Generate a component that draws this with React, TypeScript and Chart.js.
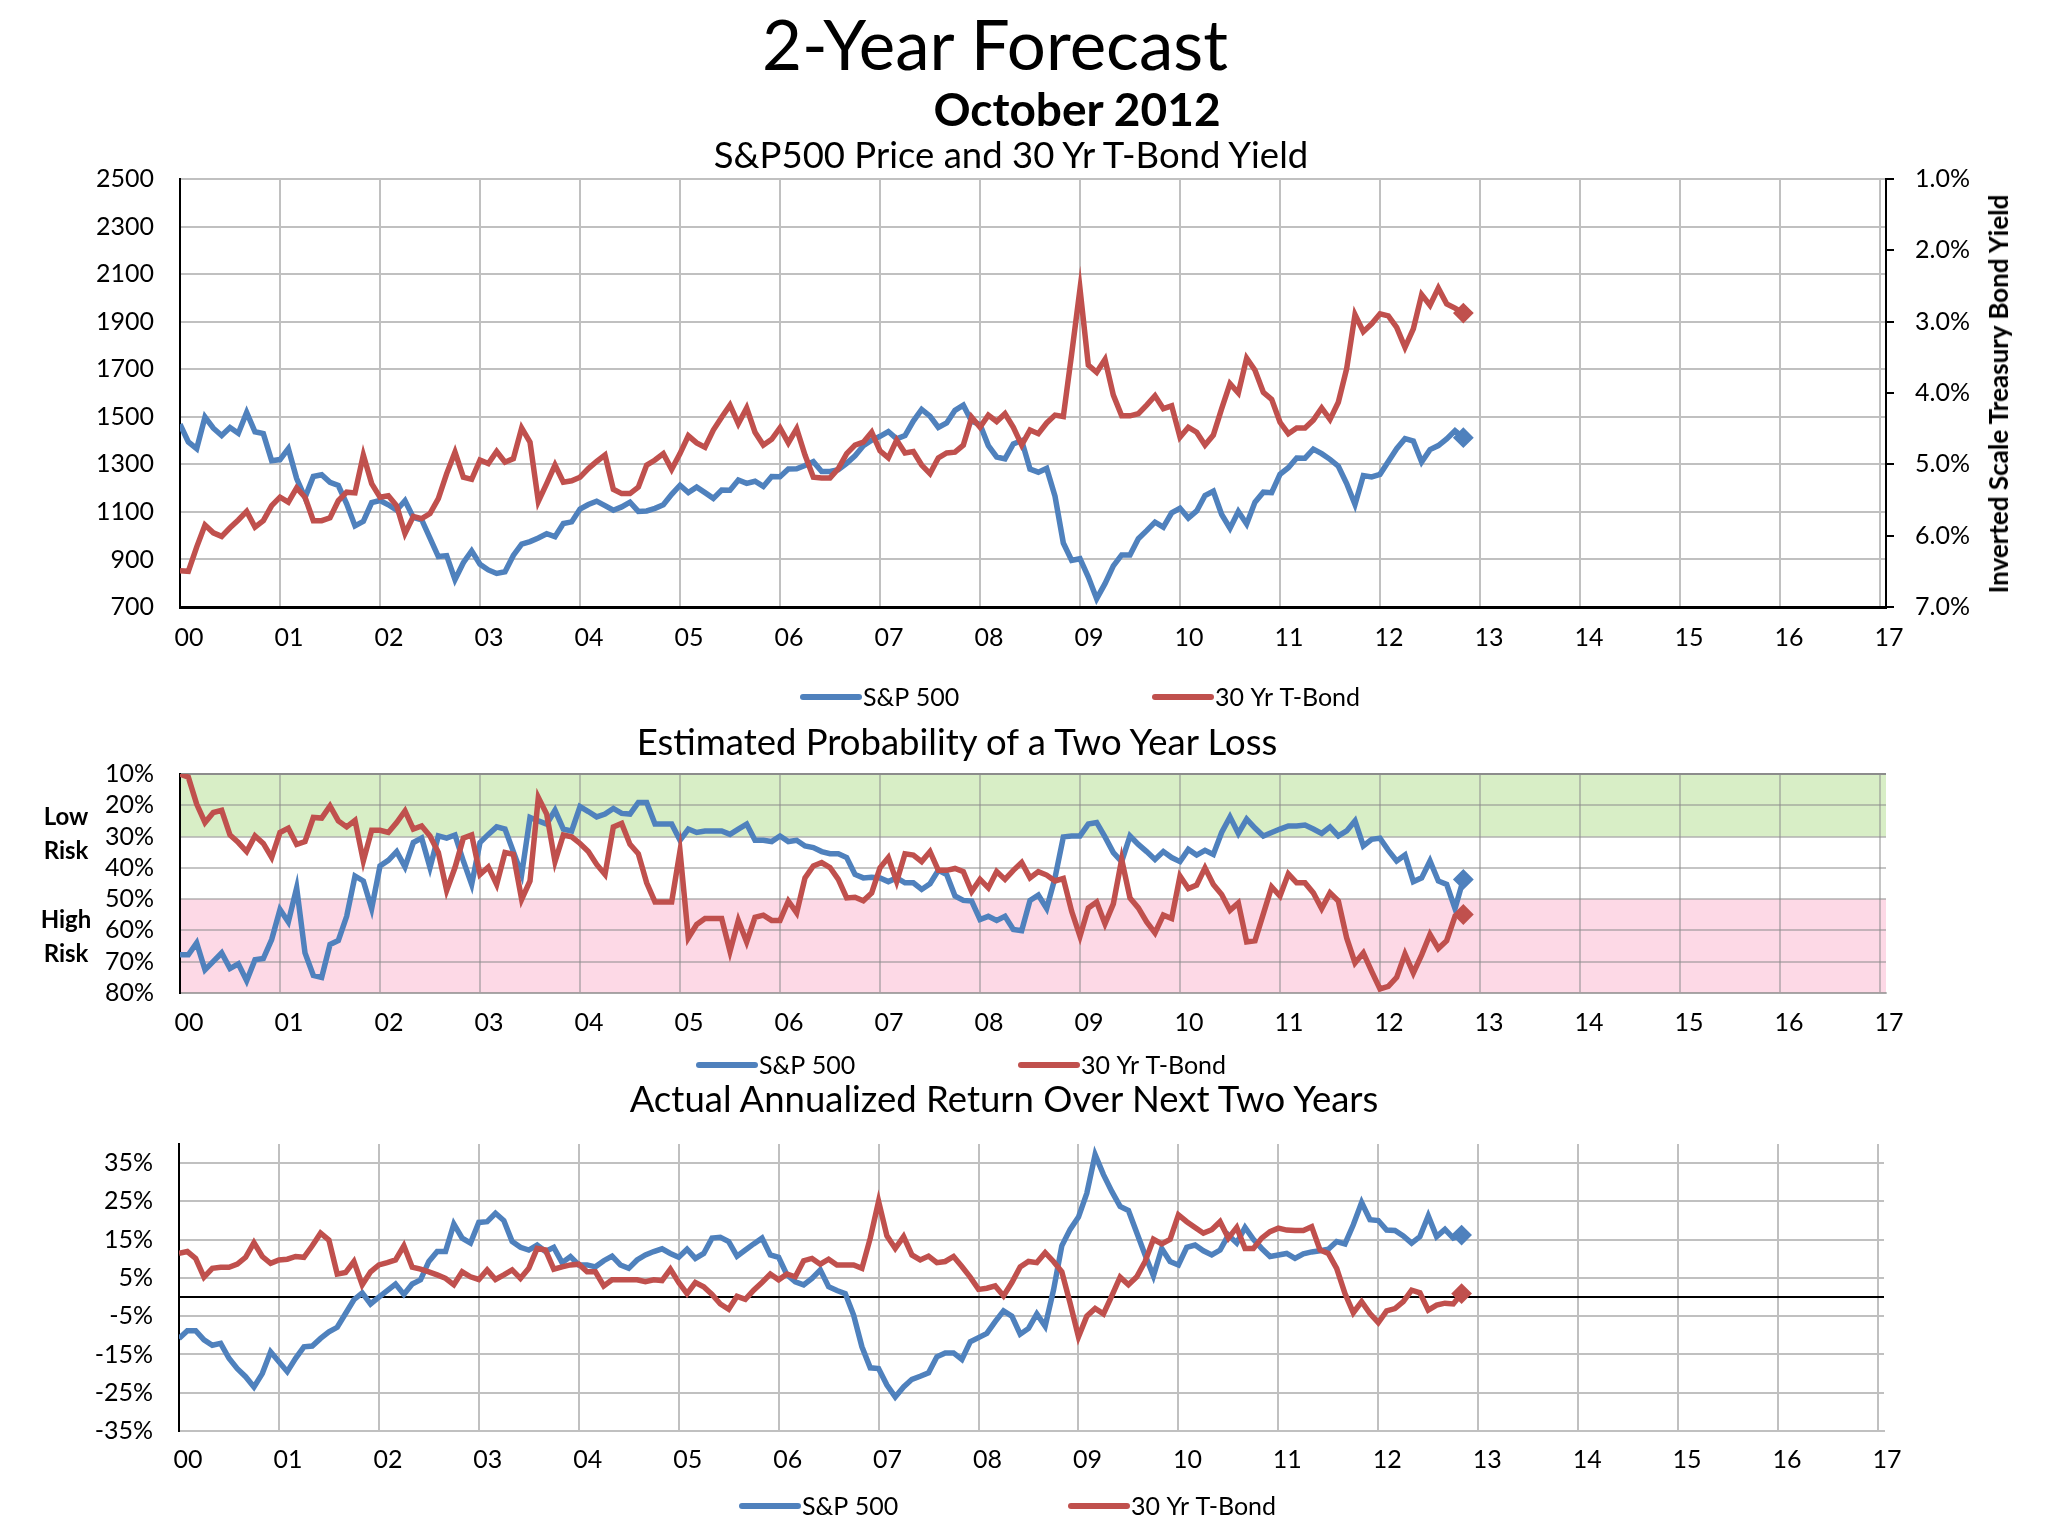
import React, { useEffect, useRef } from 'react';
import { Chart, registerables } from 'chart.js';

Chart.register(...registerables);

// ---------- DATA (monthly, Dec 1999 .. Oct 2012; x = months / 12 years from "00") ----------
const YEAR_LABELS = ['00', '01', '02', '03', '04', '05', '06', '07', '08', '09', '10', '11', '12', '13', '14', '15', '16', '17'];

const SERIES_NAMES = ['S&P 500', '30 Yr T-Bond'];

const SP500_PRICE = [
  1469,
  1394, 1366, 1499, 1452, 1421, 1455, 1431, 1518, 1437, 1429, 1315, 1320,
  1366, 1240, 1160, 1249, 1256, 1224, 1211, 1134, 1041, 1060, 1139, 1148,
  1130, 1107, 1147, 1077, 1067, 990, 912, 916, 815, 886, 936, 880,
  856, 841, 848, 917, 964, 975, 990, 1008, 996, 1051, 1058, 1112,
  1131, 1145, 1126, 1107, 1121, 1141, 1102, 1104, 1115, 1130, 1174, 1212,
  1181, 1204, 1181, 1157, 1192, 1191, 1234, 1220, 1229, 1207, 1249, 1248,
  1280, 1281, 1295, 1311, 1270, 1270, 1277, 1304, 1336, 1378, 1401, 1418,
  1438, 1407, 1421, 1482, 1531, 1503, 1455, 1474, 1527, 1549, 1481, 1468,
  1379, 1331, 1323, 1386, 1400, 1280, 1267, 1283, 1166, 969, 896, 903,
  826, 735, 798, 873, 919, 919, 987, 1021, 1057, 1036, 1096, 1115,
  1074, 1104, 1169, 1187, 1089, 1031, 1102, 1049, 1141, 1183, 1181, 1258,
  1286, 1327, 1326, 1364, 1345, 1321, 1292, 1219, 1131, 1253, 1247, 1258,
  1312, 1366, 1408, 1398, 1310, 1362, 1379, 1407, 1441, 1412,
];

const TBOND_YIELD = [
  6.49,
  6.50, 6.16, 5.85, 5.96, 6.01, 5.89, 5.78, 5.66, 5.88, 5.79, 5.58, 5.46,
  5.53, 5.33, 5.46, 5.79, 5.79, 5.75, 5.51, 5.39, 5.40, 4.87, 5.27, 5.46,
  5.44, 5.58, 5.97, 5.73, 5.76, 5.69, 5.48, 5.13, 4.83, 5.18, 5.21, 4.94,
  4.99, 4.82, 4.97, 4.92, 4.49, 4.69, 5.52, 5.27, 5.01, 5.25, 5.23, 5.18,
  5.06, 4.96, 4.87, 5.35, 5.41, 5.41, 5.32, 5.01, 4.94, 4.85, 5.07, 4.85,
  4.60, 4.70, 4.76, 4.52, 4.34, 4.17, 4.43, 4.21, 4.55, 4.73, 4.65, 4.49,
  4.70, 4.50, 4.87, 5.18, 5.19, 5.19, 5.06, 4.85, 4.73, 4.69, 4.55, 4.81,
  4.91, 4.66, 4.84, 4.82, 5.01, 5.13, 4.91, 4.84, 4.83, 4.73, 4.34, 4.48,
  4.31, 4.40, 4.29, 4.48, 4.73, 4.52, 4.57, 4.42, 4.31, 4.33, 3.45, 2.54,
  3.61, 3.71, 3.53, 4.03, 4.32, 4.32, 4.29, 4.17, 4.04, 4.22, 4.18, 4.62,
  4.48, 4.55, 4.73, 4.59, 4.22, 3.87, 4.00, 3.51, 3.68, 3.99, 4.09, 4.41,
  4.57, 4.49, 4.49, 4.38, 4.21, 4.37, 4.13, 3.66, 2.90, 3.14, 3.03, 2.89,
  2.92, 3.08, 3.36, 3.10, 2.62, 2.77, 2.53, 2.75, 2.81, 2.88,
];

const SP500_LOSS_PROB = [
  67.8,
  67.8, 64, 72.6, 69.9, 67.2, 72.2, 70.7, 76.1, 69.4, 69, 62.9, 53.3,
  57.3, 46.4, 67.2, 74.4, 75, 64.5, 63.2, 55.5, 42.6, 44.2, 53, 39.4,
  37.6, 34.8, 39.7, 31.9, 30.5, 39.9, 29.8, 30.5, 29.5, 37.8, 45.3, 31.9,
  29.3, 26.9, 27.6, 34.8, 42.1, 23.9, 25, 26, 21.6, 27.6, 28.2, 20.4,
  22, 23.7, 22.8, 21, 22.6, 22.8, 19.1, 19.1, 26, 26, 26, 31.2,
  27.6, 28.7, 28.2, 28.2, 28.2, 29.3, 27.6, 26, 31.2, 31.2, 31.6, 29.8,
  31.6, 31.2, 33, 33.5, 34.8, 35.5, 35.5, 36.7, 42.1, 43.2, 43, 43.2,
  44.4, 43.2, 44.8, 44.8, 46.9, 45.1, 40.8, 42.1, 49, 50.4, 50.6, 56.5,
  55.5, 56.8, 55.5, 59.7, 60.1, 50.4, 48.7, 53, 43.2, 30.1, 29.8, 29.8,
  26, 25.5, 30.1, 35.1, 38, 29.8, 32.5, 34.8, 37.3, 34.8, 36.7, 38,
  34.1, 35.9, 34.4, 35.7, 28.7, 23.7, 29, 24.4, 27.3, 29.8, 28.7, 27.6,
  26.6, 26.6, 26.3, 27.6, 29, 26.9, 29.8, 28.2, 25, 33, 30.9, 30.5,
  34.4, 37.8, 35.9, 44.4, 43.2, 37.8, 44.2, 45.3, 53, 43.7,
];

const TBOND_LOSS_PROB = [
  10,
  11, 19.6, 25.5, 22.3, 21.6, 29.5, 31.9, 34.8, 29.8, 32.2, 36.7, 28.7,
  27.3, 32.5, 31.6, 23.9, 24.1, 20.2, 25, 26.9, 24.8, 37.8, 28, 28,
  28.7, 25.5, 21.8, 27.6, 26.6, 29.8, 35.1, 47.2, 39.9, 30.5, 29.5, 42.1,
  39.7, 45.3, 35.1, 35.7, 50.1, 44.2, 17.5, 22.8, 38, 29.5, 30.1, 32.2,
  34.8, 38.9, 42.1, 26.9, 25.8, 32.5, 35.5, 44.8, 50.9, 50.9, 50.9, 34.6,
  62.4, 58.1, 56.2, 56.2, 56.2, 66.7, 56.8, 63.7, 55.8, 55.1, 56.8, 56.8,
  50.6, 54.4, 43.2, 39.4, 38.3, 39.9, 43.7, 49.6, 49.4, 50.5, 48, 40,
  36.7, 44.4, 35.5, 35.9, 38, 34.8, 40.8, 40.8, 40.2, 41.2, 47.6, 43.7,
  46.4, 41.2, 43.7, 40.8, 38.3, 43.2, 41.2, 42.3, 44.2, 43.4, 53.9, 61.9,
  52.8, 50.9, 57.9, 51.5, 37.3, 49.6, 52.8, 57.3, 60.8, 55.1, 56.2, 42.6,
  46.6, 45.5, 40, 45.3, 48.5, 53.6, 51.2, 63.7, 63.3, 54.7, 46.1, 49,
  41.9, 44.8, 44.8, 48, 53, 48, 50.6, 62.4, 70.4, 67.2, 73.1, 78.7,
  77.9, 75, 67.5, 73.6, 67.8, 61.3, 65.8, 63.3, 55.5, 54.9,
];

const SP500_RETURN = [
  -10.8,
  -8.8, -8.8, -11.2, -12.6, -12.1, -16, -18.7, -20.8, -23.5, -20, -14.3, -16.9,
  -19.5, -16, -13, -12.8, -10.8, -9.1, -7.9, -4.3, -0.7, 1.1, -1.8, 0,
  1.7, 3.4, 0.7, 3.4, 4.5, 9.3, 11.9, 11.9, 19.1, 15.4, 14.1, 19.5,
  19.7, 21.9, 20, 14.5, 13, 12.3, 13.6, 11.9, 13, 9, 10.6, 8.4,
  8.4, 7.9, 9.5, 10.7, 8.4, 7.5, 9.7, 11, 11.9, 12.6, 11.4, 10.4,
  12.5, 10.1, 11.4, 15.4, 15.6, 14.5, 10.7, 12.3, 13.9, 15.4, 11, 10.4,
  5.8, 4, 3.2, 4.9, 7.1, 2.7, 1.7, 0.9, -4.7, -13, -18.5, -18.7,
  -23, -26.1, -23.5, -21.5, -20.7, -19.8, -15.6, -14.6, -14.6, -16.3, -11.7, -10.6,
  -9.5, -6.4, -3.6, -5, -9.7, -8.2, -4.4, -7.6, 1.8, 13.4, 17.7, 20.9,
  27.1, 37.2, 32, 27.6, 23.7, 22.6, 16.8, 11, 5.5, 12.7, 9.3, 8.4,
  13, 13.6, 12.1, 11, 12.3, 16.2, 14.1, 18.2, 15.1, 12.7, 10.6, 11,
  11.4, 10.1, 11.3, 11.8, 12.1, 12.5, 14.5, 13.9, 18.9, 24.7, 20.2, 20,
  17.5, 17.4, 16, 14.1, 15.8, 21.2, 15.8, 17.7, 15.4, 16.2,
];

const TBOND_RETURN = [
  11.4,
  11.9, 10.1, 5.2, 7.5, 7.8, 7.8, 8.6, 10.4, 14.2, 10.6, 8.8, 9.7,
  9.9, 10.6, 10.4, 13.4, 16.7, 14.9, 6, 6.4, 9.3, 3.2, 6.6, 8.4,
  9, 9.7, 13.4, 7.8, 7.3, 6.6, 5.8, 4.9, 3.2, 6.6, 5.3, 4.6,
  7.1, 4.6, 5.8, 7.1, 4.9, 7.5, 12.7, 12.3, 7.3, 7.9, 8.4, 8.6,
  6.6, 6.6, 2.9, 4.5, 4.5, 4.5, 4.5, 4, 4.5, 4.3, 7.3, 3.8,
  0.9, 3.8, 2.7, 0.7, -1.8, -3.2, 0.2, -0.6, 1.8, 3.8, 6, 4.5,
  6, 5.3, 9.5, 10.1, 8.6, 9.9, 8.4, 8.4, 8.4, 7.5, 15.4, 25,
  16, 12.7, 15.8, 11, 9.7, 10.7, 9, 9.3, 10.6, 8, 5.2, 2,
  2.3, 2.9, 0.3, 3.8, 7.9, 9.3, 9, 11.6, 9.3, 6.6, -1.6, -10.4,
  -5, -3, -4.4, 0.3, 5.2, 3.2, 5.3, 9.3, 15.1, 13.9, 15.1, 21.5,
  19.7, 18.2, 16.7, 17.6, 19.7, 15.4, 18.2, 12.7, 12.7, 15.4, 17.1, 18,
  17.5, 17.4, 17.4, 18.4, 12.3, 11.4, 7.5, 0.9, -4.1, -1.2, -4.3, -6.7,
  -3.6, -3, -1.2, 1.8, 1.1, -3.4, -2.1, -1.6, -1.8, 0.9,
];

const PRICE_TICKS = [700, 2500, 200];
const YIELD_TICKS = [1, 7, 1];
const PROB_TICKS = [10, 80, 10];
const RETURN_TICKS = [-35, -25, -15, -5, 0, 5, 15, 25, 35];
const RETURN_RANGE = [-35, 40];
const LOW_RISK_BAND = [10, 30];
const HIGH_RISK_BAND = [50, 80];

// ---------- STYLE ----------
const BLUE = '#4F81BD';
const RED = '#C0504D';
const GRID = '#c0c0c0';
const FONT = 'Lato';
const TICK_SIZE = 25;
const LEGEND_SIZE = 25;
const X_MAX = 17.06;
const MONTHS_PER_YEAR = 12;

Chart.defaults.font.family = FONT;
Chart.defaults.color = '#000';

const toPoints = (vals: number[]) => vals.map((y, i) => ({ x: i / MONTHS_PER_YEAR, y }));

function lineDataset(label: string, vals: number[], color: string, yAxisID: string, order: number) {
  const last = vals.length - 1;
  return {
    label,
    data: toPoints(vals),
    borderColor: color,
    backgroundColor: color,
    borderWidth: 5.5,
    tension: 0,
    yAxisID,
    order,
    pointStyle: 'rectRot',
    pointRadius: (c: any) => (c.dataIndex === last ? 9 : 0),
    pointBorderWidth: 2,
    pointHoverRadius: 0,
  };
}

function makeLegend(xs: number[], y: number) {
  return {
    id: 'lineLegend',
    afterDraw(chart: any) {
      const ctx = chart.ctx;
      ctx.save();
      ctx.font = `${LEGEND_SIZE}px ${FONT}`;
      ctx.textBaseline = 'middle';
      ctx.fillStyle = '#000';
      chart.data.datasets.forEach((ds: any, i: number) => {
        const x = xs[i];
        ctx.strokeStyle = ds.borderColor;
        ctx.lineWidth = 6;
        ctx.lineCap = 'round';
        ctx.beginPath();
        ctx.moveTo(x, y);
        ctx.lineTo(x + 56, y);
        ctx.stroke();
        ctx.fillText(ds.label, x + 60, y + 1);
      });
      ctx.restore();
    },
  };
}

function makeBands() {
  return {
    id: 'riskBands',
    beforeDraw(chart: any) {
      const { ctx, chartArea } = chart;
      const ys = chart.scales.y;
      ctx.save();
      const band = (r: number[], color: string) => {
        const a = ys.getPixelForValue(r[0]);
        const b = ys.getPixelForValue(r[1]);
        ctx.fillStyle = color;
        ctx.fillRect(chartArea.left, Math.min(a, b), chartArea.right - chartArea.left, Math.abs(b - a));
      };
      band(LOW_RISK_BAND, 'rgb(216,238,198)');
      band(HIGH_RISK_BAND, 'rgb(253,217,230)');
      ctx.restore();
    },
  };
}

function xAxis(height: number, padding: number, gridColor: any, borderColor: string, borderWidth: number) {
  return {
    type: 'linear',
    min: 0,
    max: X_MAX,
    afterBuildTicks: (s: any) => {
      s.ticks = YEAR_LABELS.map((_, k) => ({ value: k }));
    },
    afterFit: (s: any) => {
      s.height = height;
    },
    ticks: {
      callback: (v: number) => YEAR_LABELS[Math.round(v)],
      font: { size: TICK_SIZE },
      color: '#000',
      padding,
      labelOffset: 9,
      maxRotation: 0,
      autoSkip: false,
    },
    grid: { color: gridColor, lineWidth: 2, drawTicks: false },
    border: { color: borderColor, width: borderWidth },
  };
}

function baseOptions(padding: any, scales: any) {
  return {
    animation: false,
    responsive: true,
    maintainAspectRatio: false,
    events: [],
    layout: { padding },
    plugins: { legend: { display: false }, tooltip: { enabled: false }, title: { display: false } },
    scales,
  };
}

function useChart(ref: React.RefObject<HTMLCanvasElement>, build: () => any) {
  useEffect(() => {
    if (!ref.current) return;
    const chart = new Chart(ref.current, build());
    return () => chart.destroy();
  }, []);
}

const abs = (left: number, top: number, width: number, height: number): React.CSSProperties => ({
  position: 'absolute',
  left,
  top,
  width,
  height,
});

function PriceChart() {
  const ref = useRef<HTMLCanvasElement>(null);
  useChart(ref, () => ({
    type: 'line',
    data: {
      datasets: [
        lineDataset(SERIES_NAMES[0], SP500_PRICE, BLUE, 'y', 2),
        lineDataset(SERIES_NAMES[1], TBOND_YIELD, RED, 'y2', 1),
      ],
    },
    options: baseOptions({ top: 49, left: 0, right: 52, bottom: 0 }, {
      x: xAxis(123, 16, GRID, '#000', 3),
      y: {
        position: 'left',
        min: PRICE_TICKS[0],
        max: PRICE_TICKS[1],
        ticks: { stepSize: PRICE_TICKS[2], autoSkip: false, font: { size: TICK_SIZE }, color: '#000', padding: 26, callback: (v: number) => String(v) },
        grid: { color: GRID, lineWidth: 2, drawTicks: false },
        border: { color: '#000', width: 2 },
        afterFit: (s: any) => { s.width = 180; },
      },
      y2: {
        position: 'right',
        reverse: true,
        min: YIELD_TICKS[0],
        max: YIELD_TICKS[1],
        ticks: { stepSize: YIELD_TICKS[2], autoSkip: false, font: { size: TICK_SIZE }, color: '#000', padding: 21, callback: (v: number) => v.toFixed(1) + '%' },
        grid: { drawOnChartArea: false, drawTicks: true, tickLength: 8, color: '#000', lineWidth: 2 },
        border: { color: '#000', width: 2 },
        afterFit: (s: any) => { s.width = 110; },
      },
    }),
    plugins: [makeLegend([803, 1155], 567)],
  }));
  return (
    <div style={abs(0, 130, 2048, 600)}>
      <canvas ref={ref} />
    </div>
  );
}

function ProbChart() {
  const ref = useRef<HTMLCanvasElement>(null);
  const soft = 'rgba(140,140,140,0.5)';
  useChart(ref, () => ({
    type: 'line',
    data: {
      datasets: [
        lineDataset(SERIES_NAMES[0], SP500_LOSS_PROB, BLUE, 'y', 2),
        lineDataset(SERIES_NAMES[1], TBOND_LOSS_PROB, RED, 'y', 1),
      ],
    },
    options: baseOptions({ top: 50, left: 0, right: 162, bottom: 0 }, {
      x: xAxis(97, 15, soft, soft, 2),
      y: {
        position: 'left',
        reverse: true,
        min: PROB_TICKS[0],
        max: PROB_TICKS[1],
        ticks: { stepSize: PROB_TICKS[2], autoSkip: false, font: { size: TICK_SIZE }, color: '#000', padding: 26, callback: (v: number) => v + '%' },
        grid: {
          color: (c: any) => (c.tick && c.tick.value === PROB_TICKS[0] ? '#8c8c8c' : soft),
          lineWidth: 2,
          drawTicks: false,
        },
        border: { color: '#000', width: 2 },
        afterFit: (s: any) => { s.width = 180; },
      },
    }),
    plugins: [makeBands(), makeLegend([699, 1021], 1065 - 724)],
  }));
  return (
    <div style={abs(0, 724, 2048, 366)}>
      <canvas ref={ref} />
    </div>
  );
}

function ReturnChart() {
  const ref = useRef<HTMLCanvasElement>(null);
  useChart(ref, () => ({
    type: 'line',
    data: {
      datasets: [
        lineDataset(SERIES_NAMES[0], SP500_RETURN, BLUE, 'y', 2),
        lineDataset(SERIES_NAMES[1], TBOND_RETURN, RED, 'y', 1),
      ],
    },
    options: baseOptions({ top: 50, left: 0, right: 164, bottom: 0 }, {
      x: xAxis(105, 14, GRID, GRID, 2),
      y: {
        position: 'left',
        min: RETURN_RANGE[0],
        max: RETURN_RANGE[1],
        afterBuildTicks: (s: any) => {
          s.ticks = RETURN_TICKS.map((v) => ({ value: v }));
        },
        ticks: { autoSkip: false, font: { size: TICK_SIZE }, color: '#000', padding: 26, callback: (v: number) => (v === 0 ? '' : v + '%') },
        grid: {
          color: (c: any) => (c.tick && c.tick.value === 0 ? '#000' : GRID),
          lineWidth: 2,
          drawTicks: false,
        },
        border: { color: '#000', width: 2 },
        afterFit: (s: any) => { s.width = 179; },
      },
    }),
    plugins: [makeLegend([742, 1071], 1506 - 1094)],
  }));
  return (
    <div style={abs(0, 1094, 2048, 442)}>
      <canvas ref={ref} />
    </div>
  );
}

function CenteredText(props: { text: string; cx: number; top: number; size: number; bold?: boolean }) {
  const { text, cx, top, size, bold } = props;
  return (
    <div
      style={{
        position: 'absolute',
        left: cx - 600,
        width: 1200,
        top,
        textAlign: 'center',
        fontFamily: FONT,
        fontSize: size,
        lineHeight: `${size}px`,
        fontWeight: bold ? 700 : 400,
        color: '#000',
        whiteSpace: 'nowrap',
      }}
    >
      {text}
    </div>
  );
}

export default function App() {
  return (
    <div style={{ position: 'absolute', left: 0, top: 0, width: 2048, height: 1536, overflow: 'hidden', background: '#fff' }}>
      <PriceChart />
      <ProbChart />
      <ReturnChart />
      <CenteredText text="2-Year Forecast" cx={995} top={9} size={69} />
      <CenteredText text="October 2012" cx={1077} top={86} size={46} bold />
      <CenteredText text="S&P500 Price and 30 Yr T-Bond Yield" cx={1011} top={136} size={36.5} />
      <CenteredText text="Estimated Probability of a Two Year Loss" cx={957} top={723} size={36.5} />
      <CenteredText text="Actual Annualized Return Over Next Two Years" cx={1004} top={1080} size={36.5} />
      <div
        style={{
          position: 'absolute',
          left: 1998,
          top: 394,
          transform: 'translate(-50%, -50%) rotate(-90deg)',
          fontFamily: FONT,
          fontWeight: 700,
          fontSize: 26,
          whiteSpace: 'nowrap',
          color: '#000',
        }}
      >
        Inverted Scale Treasury Bond Yield
      </div>
      {[
        { text: ['Low', 'Risk'], top: 799 },
        { text: ['High', 'Risk'], top: 902 },
      ].map((b) => (
        <div
          key={b.top}
          style={{
            position: 'absolute',
            left: 16,
            width: 100,
            top: b.top,
            textAlign: 'center',
            fontFamily: FONT,
            fontWeight: 700,
            fontSize: 24,
            lineHeight: '34px',
            color: '#000',
          }}
        >
          {b.text[0]}
          <br />
          {b.text[1]}
        </div>
      ))}
    </div>
  );
}
